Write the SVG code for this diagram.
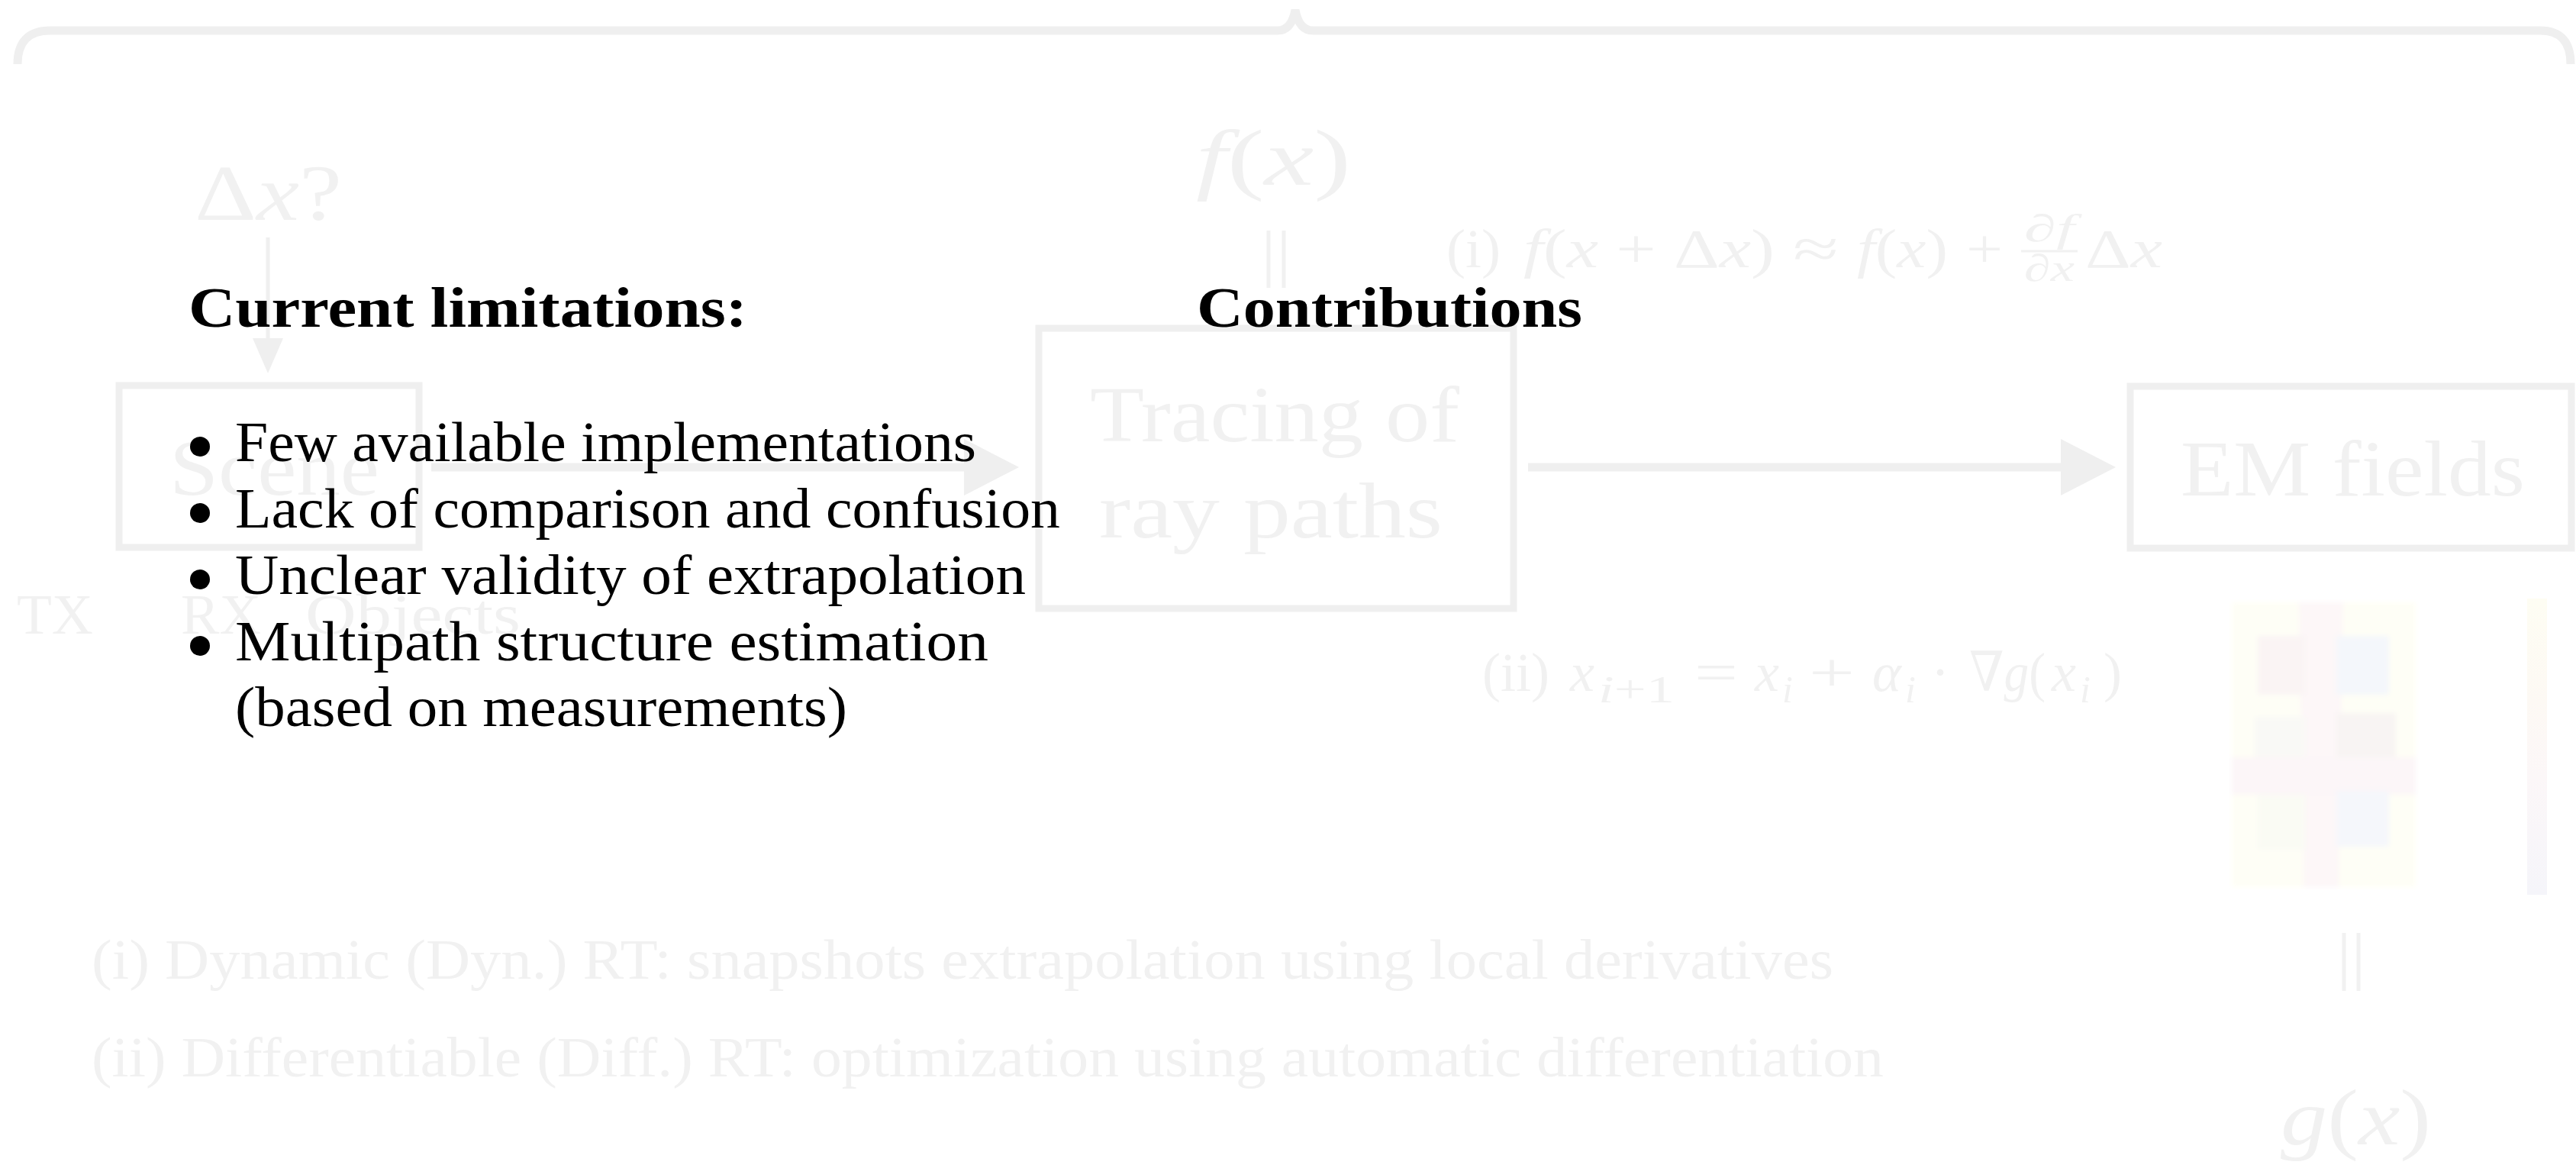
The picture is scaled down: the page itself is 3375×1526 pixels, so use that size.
<svg xmlns="http://www.w3.org/2000/svg" width="3375" height="1526" viewBox="0 0 3375 1526">
  <defs>
    <style>
      .bg { fill: #ffffff; }
      .txt { font-family: "Liberation Serif", "DejaVu Serif", serif; fill: #000000; }
      .body { font-size: 73px; }
      .head { font-size: 74px; font-weight: bold; }
      .faint { font-family: "Liberation Serif", "DejaVu Serif", serif; fill: #f1f1f1; }
      .big { font-size: 104px; }
      .mid { font-size: 72px; }
      .sub { font-size: 50px; }
      .it { font-style: italic; }
      .box { fill: none; stroke: #efefef; stroke-width: 9; }
      .wire { fill: none; stroke: #efefef; stroke-width: 11; }
      .thin { fill: none; stroke: #efefef; stroke-width: 5; }
      .bar { fill: none; stroke: #f1f1f1; stroke-width: 5; }
      .dot { fill: #000000; }
    </style>
    <marker id="head-big" markerUnits="userSpaceOnUse" markerWidth="72" markerHeight="74" refX="0" refY="37" orient="auto">
      <path d="M0,0 L72,37 L0,74 z" fill="#efefef"/>
    </marker>
    <marker id="head-small" markerUnits="userSpaceOnUse" markerWidth="46" markerHeight="40" refX="0" refY="20" orient="auto">
      <path d="M0,0 L46,20 L0,40 z" fill="#efefef"/>
    </marker>
    <linearGradient id="scale" x1="0" y1="0" x2="0" y2="1">
      <stop offset="0" stop-color="#fefdf3"/>
      <stop offset="0.35" stop-color="#fdf9f4"/>
      <stop offset="0.6" stop-color="#fcf7f8"/>
      <stop offset="1" stop-color="#f5f5fa"/>
    </linearGradient>
    <filter id="soft" x="-5%" y="-5%" width="110%" height="110%">
      <feGaussianBlur stdDeviation="3"/>
    </filter>
  </defs>

  <rect class="bg" x="0" y="0" width="3375" height="1526"/>

  <!-- faded pipeline layer -->
  <g id="connectors">
    <!-- overbrace across the whole width -->
    <path class="wire" d="M23,84 Q23,40 66,40 L1674,40 Q1692,40 1697,13 Q1702,40 1720,40 L3328,40 Q3368,40 3368,84"/>
    <!-- delta x into the scene -->
    <line class="thin" x1="351" y1="311" x2="351" y2="443" marker-end="url(#head-small)"/>
    <!-- scene to ray tracing -->
    <line class="wire" x1="565" y1="612" x2="1263" y2="612" marker-end="url(#head-big)"/>
    <!-- ray tracing to fields -->
    <line class="wire" x1="2002" y1="612" x2="2700" y2="612" marker-end="url(#head-big)"/>
    <!-- equality bars -->
    <line class="bar" x1="1662" y1="302" x2="1662" y2="377"/>
    <line class="bar" x1="1682" y1="302" x2="1682" y2="377"/>
    <line class="bar" x1="3071" y1="1222" x2="3071" y2="1298"/>
    <line class="bar" x1="3090" y1="1222" x2="3090" y2="1298"/>
  </g>

  <g id="delta-x">
    <text class="faint big" x="255" y="288" textLength="193" lengthAdjust="spacingAndGlyphs">Δ<tspan class="it">x</tspan>?</text>
  </g>

  <g id="scene">
    <rect class="box" x="156" y="505" width="393" height="212"/>
    <text class="faint big" x="222" y="648" textLength="275" lengthAdjust="spacingAndGlyphs">Scene</text>
  </g>

  <g id="scene-labels">
    <text class="faint body" x="22" y="830" textLength="100" lengthAdjust="spacingAndGlyphs">TX</text>
    <text class="faint body" x="237" y="830" textLength="105" lengthAdjust="spacingAndGlyphs">RX</text>
    <text class="faint body" x="400" y="830" textLength="282" lengthAdjust="spacingAndGlyphs">Objects</text>
  </g>

  <g id="f-x">
    <text class="faint big" x="1567" y="242" textLength="203" lengthAdjust="spacingAndGlyphs"><tspan class="it">f</tspan>(<tspan class="it">x</tspan>)</text>
  </g>

  <g id="ray-tracing">
    <rect class="box" x="1361" y="430" width="622" height="367"/>
    <text class="faint big" x="1428" y="578" textLength="484" lengthAdjust="spacingAndGlyphs">Tracing of</text>
    <text class="faint big" x="1440" y="704" textLength="450" lengthAdjust="spacingAndGlyphs">ray paths</text>
  </g>

  <g id="em-fields">
    <rect class="box" x="2791" y="506" width="578" height="212"/>
    <text class="faint big" x="2857" y="649" textLength="451" lengthAdjust="spacingAndGlyphs">EM fields</text>
  </g>

  <g id="formula-taylor">
    <text class="faint mid" x="1895" y="350" textLength="71" lengthAdjust="spacingAndGlyphs">(i)</text>
    <text class="faint mid" x="1996" y="350" textLength="329" lengthAdjust="spacingAndGlyphs"><tspan class="it">f</tspan>(<tspan class="it">x</tspan> + Δ<tspan class="it">x</tspan>)</text>
    <text class="faint mid" x="2349" y="350" textLength="60" lengthAdjust="spacingAndGlyphs">≈</text>
    <text class="faint mid" x="2433" y="350" textLength="119" lengthAdjust="spacingAndGlyphs"><tspan class="it">f</tspan>(<tspan class="it">x</tspan>)</text>
    <text class="faint mid" x="2576" y="350" textLength="48" lengthAdjust="spacingAndGlyphs">+</text>
    <text class="faint sub" x="2652" y="316" textLength="66" lengthAdjust="spacingAndGlyphs">∂<tspan class="it">f</tspan></text>
    <line x1="2648" y1="329" x2="2722" y2="329" stroke="#f1f1f1" stroke-width="3"/>
    <text class="faint sub" x="2652" y="368" textLength="66" lengthAdjust="spacingAndGlyphs">∂<tspan class="it">x</tspan></text>
    <text class="faint mid" x="2732" y="350" textLength="101" lengthAdjust="spacingAndGlyphs">Δ<tspan class="it">x</tspan></text>
  </g>

  <g id="formula-gradient">
    <text class="faint mid" x="1942" y="905" textLength="88" lengthAdjust="spacingAndGlyphs">(ii)</text>
    <text class="faint mid it" x="2057" y="905">x</text>
    <text class="faint sub" x="2094" y="920" textLength="100" lengthAdjust="spacingAndGlyphs"><tspan class="it">i</tspan>+1</text>
    <text class="faint mid" x="2220" y="905" textLength="57" lengthAdjust="spacingAndGlyphs">=</text>
    <text class="faint mid it" x="2299" y="905">x</text>
    <text class="faint sub it" x="2335" y="920">i</text>
    <text class="faint mid" x="2370" y="905" textLength="60" lengthAdjust="spacingAndGlyphs">+</text>
    <text class="faint mid it" x="2453" y="905">α</text>
    <text class="faint sub it" x="2496" y="920">i</text>
    <text class="faint mid" x="2530" y="905">·</text>
    <text class="faint mid" x="2580" y="905" textLength="100" lengthAdjust="spacingAndGlyphs">∇<tspan class="it">g</tspan>(</text>
    <text class="faint mid it" x="2688" y="905">x</text>
    <text class="faint sub it" x="2725" y="920">i</text>
    <text class="faint mid" x="2756" y="905">)</text>
  </g>

  <g id="field-map" filter="url(#soft)">
    <rect x="2924" y="789" width="241" height="373" fill="#fefef6"/>
    <polygon points="3012,789 3070,789 3064,1162 3018,1162" fill="#fdf7f8"/>
    <rect x="2958" y="833" width="62" height="77" fill="#faf4f4"/>
    <rect x="3061" y="833" width="69" height="77" fill="#f4f7fb"/>
    <rect x="2954" y="939" width="66" height="53" fill="#f9f9f6"/>
    <rect x="3061" y="934" width="78" height="78" fill="#f8f4f3"/>
    <rect x="2924" y="992" width="241" height="49" fill="#fcf6f8"/>
    <rect x="2958" y="1041" width="62" height="72" fill="#fafbf4"/>
    <rect x="3061" y="1036" width="69" height="73" fill="#f5f7fb"/>
  </g>

  <g id="colorbar">
    <rect x="3311" y="784" width="26" height="388" fill="url(#scale)"/>
  </g>

  <g id="g-x">
    <text class="faint big" x="2988" y="1499" textLength="197" lengthAdjust="spacingAndGlyphs"><tspan class="it">g</tspan>(<tspan class="it">x</tspan>)</text>
  </g>

  <g id="approaches">
    <text class="faint body" x="120" y="1282" textLength="2282" lengthAdjust="spacingAndGlyphs">(i) Dynamic (Dyn.) RT: snapshots extrapolation using local derivatives</text>
    <text class="faint body" x="120" y="1410" textLength="2348" lengthAdjust="spacingAndGlyphs">(ii) Differentiable (Diff.) RT: optimization using automatic differentiation</text>
  </g>

  <!-- foreground notes -->
  <g id="limitations">
    <text class="txt head" x="247" y="428" textLength="732" lengthAdjust="spacingAndGlyphs">Current limitations:</text>
    <circle class="dot" cx="262" cy="585" r="13"/>
    <text class="txt body" x="308" y="604" textLength="971" lengthAdjust="spacingAndGlyphs">Few available implementations</text>
    <circle class="dot" cx="262" cy="672" r="13"/>
    <text class="txt body" x="308" y="691" textLength="1081" lengthAdjust="spacingAndGlyphs">Lack of comparison and confusion</text>
    <circle class="dot" cx="262" cy="759" r="13"/>
    <text class="txt body" x="308" y="778" textLength="1036" lengthAdjust="spacingAndGlyphs">Unclear validity of extrapolation</text>
    <circle class="dot" cx="262" cy="846" r="13"/>
    <text class="txt body" x="308" y="865" textLength="987" lengthAdjust="spacingAndGlyphs">Multipath structure estimation</text>
    <text class="txt body" x="308" y="951" textLength="802" lengthAdjust="spacingAndGlyphs">(based on measurements)</text>
  </g>

  <g id="contributions">
    <text class="txt head" x="1568" y="428" textLength="505" lengthAdjust="spacingAndGlyphs">Contributions</text>
  </g>
</svg>
